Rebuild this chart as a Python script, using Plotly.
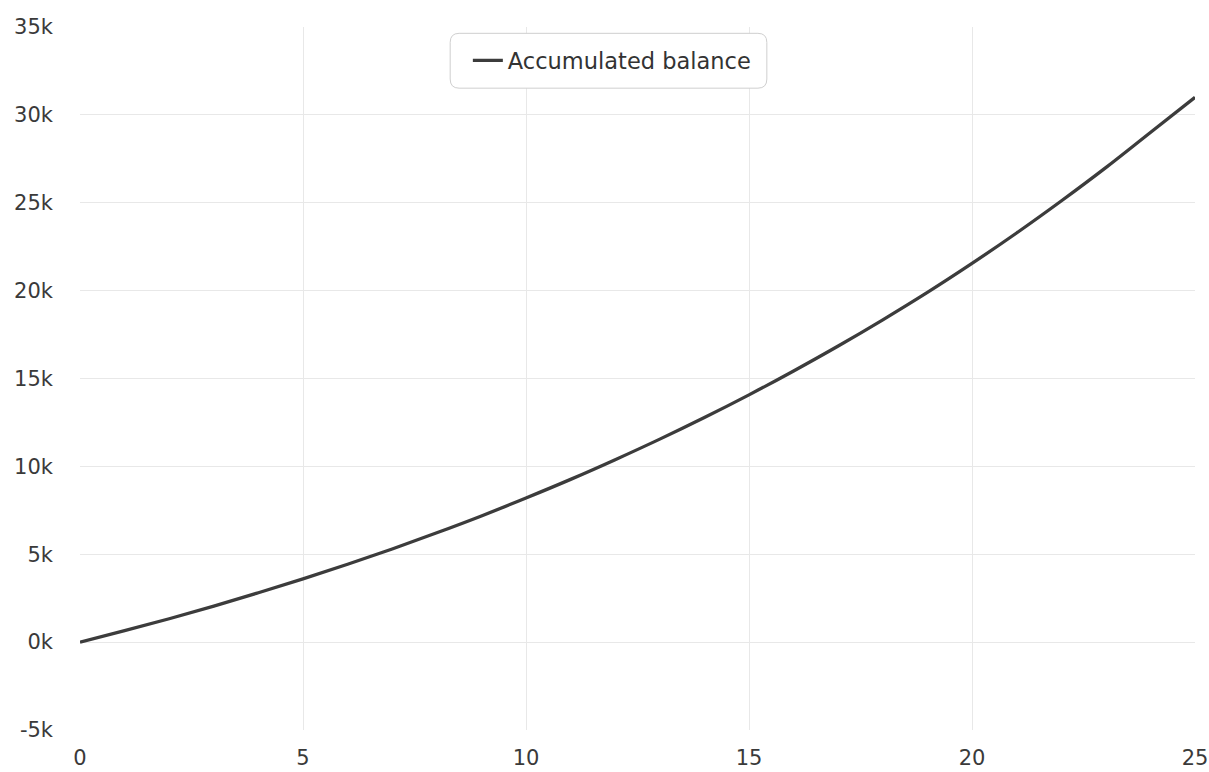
import plotly.graph_objects as go

years = list(range(0, 26))
balance = [0, 650, 1330, 2050, 2810, 3600, 4430, 5300, 6220, 7180, 8200,
           9260, 10380, 11550, 12780, 14070, 15430, 16850, 18340, 19900,
           21550, 23280, 25100, 27000, 29000, 31000]
series_name = "Accumulated balance"

y_tick_vals = [-5000, 0, 5000, 10000, 15000, 20000, 25000, 30000, 35000]
y_tick_text = ["-5k", "0k", "5k", "10k", "15k", "20k", "25k", "30k", "35k"]
x_tick_vals = [0, 5, 10, 15, 20, 25]

font_family = "DejaVu Sans"

# legend frame (rounded) in paper coordinates
bx0, bx1, by0, by1 = 0.332, 0.616, 0.913, 0.991
rx, ry = 0.008, 0.013
frame_path = (
    f"M {bx0+rx},{by0} L {bx1-rx},{by0} Q {bx1},{by0} {bx1},{by0+ry} "
    f"L {bx1},{by1-ry} Q {bx1},{by1} {bx1-rx},{by1} "
    f"L {bx0+rx},{by1} Q {bx0},{by1} {bx0},{by1-ry} "
    f"L {bx0},{by0+ry} Q {bx0},{by0} {bx0+rx},{by0} Z"
)

fig = go.Figure()
fig.add_trace(go.Scatter(
    x=years, y=balance, mode="lines", name=series_name,
    line=dict(color="#3c3c3c", width=3.3, shape="spline"),
))

fig.add_shape(type="path", path=frame_path, xref="paper", yref="paper",
              fillcolor="white", line=dict(color="#cfcfcf", width=1),
              layer="above")

fig.update_layout(
    width=1209, height=772,
    margin=dict(l=80, r=14, t=27, b=42),
    paper_bgcolor="white", plot_bgcolor="white",
    font=dict(family=font_family, size=21, color="#3a3a3a"),
    showlegend=True,
    legend=dict(
        x=(bx0 + bx1) / 2 + 0.003, y=(by0 + by1) / 2, xanchor="center", yanchor="middle",
        bgcolor="rgba(0,0,0,0)", borderwidth=0,
        font=dict(size=22.5, color="#333333"),
        itemwidth=30,
    ),
    xaxis=dict(
        range=[0, 25], tickvals=x_tick_vals, showgrid=True,
        gridcolor="#e8e8e8", gridwidth=1, zeroline=False,
        showline=False, ticks="", automargin=False, ticklabelstandoff=13,
    ),
    yaxis=dict(
        range=[-5000, 35000], tickvals=y_tick_vals, ticktext=y_tick_text,
        showgrid=True, gridcolor="#e8e8e8", gridwidth=1, zeroline=False,
        showline=False, ticks="", automargin=False, ticklabelstandoff=26,
    ),
)

fig.write_html(
    "out.html",
    config={"displayModeBar": False},
    post_script="document.body.style.margin='0';document.body.style.overflow='hidden';",
)
